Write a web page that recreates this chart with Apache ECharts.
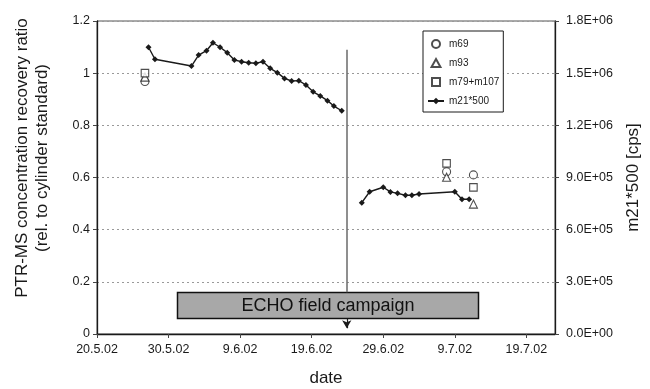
<!DOCTYPE html>
<html>
<head>
<meta charset="utf-8">
<script src="https://cdn.jsdelivr.net/npm/echarts@6/dist/echarts.min.js"></script>
<style>
  html, body { margin: 0; padding: 0; background: #fff; }
  #chart { width: 650px; height: 389px; }
</style>
</head>
<body>
<div id="chart"></div>
<script>
// x values are days counted from 20.5.02
const dateTickLabels = ['20.5.02', '30.5.02', '9.6.02', '19.6.02', '29.6.02', '9.7.02', '19.7.02'];

// m21*500 count rate [cps], before and after the campaign break
const m21DaysA = [7.2, 8.1, 13.2, 14.2, 15.3, 16.2, 17.2, 18.2, 19.2, 20.2, 21.2, 22.2,
                  23.2, 24.2, 25.2, 26.2, 27.2, 28.2, 29.2, 30.2, 31.2, 32.2, 33.1, 34.2];
const m21ValuesA = [1.649e6, 1.580e6, 1.541e6, 1.604e6, 1.629e6, 1.675e6, 1.649e6, 1.618e6,
                    1.576e6, 1.566e6, 1.560e6, 1.557e6, 1.566e6, 1.528e6, 1.503e6, 1.470e6,
                    1.455e6, 1.457e6, 1.432e6, 1.393e6, 1.369e6, 1.342e6, 1.311e6, 1.284e6];
const m21DaysB = [37.0, 38.1, 40.0, 41.0, 42.0, 43.1, 44.0, 45.0, 50.0, 51.0, 52.0];
const m21ValuesB = [7.55e5, 8.18e5, 8.44e5, 8.17e5, 8.09e5, 7.98e5, 7.98e5, 8.05e5,
                    8.18e5, 7.75e5, 7.75e5];

// recovery ratios from the cylinder standard checks
const calibrationDays = [6.7, 48.85, 52.6];
const m69Ratio = [0.968, 0.622, 0.610];
const m93Ratio = [0.985, 0.601, 0.498];
const m79m107Ratio = [1.0, 0.654, 0.562];

// start of the ECHO field campaign (day offset) and the divider extent
const campaignStartDay = 34.9;
const dividerRange = [1.09, 0.16];
const arrowRange = [0.058, 0.022];

const FONT = "'Liberation Sans', Arial, sans-serif";
const INK = '#1a1a1a';

// legend icons that keep their shape
const ICON_SQUARE = 'path://M0,0L10,0L10,10L0,10Z';
const ICON_TRIANGLE = 'path://M5,0L10,9L0,9Z';

function zip(xs, ys) { return xs.map((x, i) => [x, ys[i]]); }

// one line with a gap between the two measurement periods
const m21Data = zip(m21DaysA, m21ValuesA)
  .concat([[(m21DaysA[m21DaysA.length - 1] + m21DaysB[0]) / 2, '-']])
  .concat(zip(m21DaysB, m21ValuesB));

function sciLabel(v) {
  if (v === 0) return '0.0E+00';
  const e = Math.floor(Math.log10(v) + 1e-9);
  const m = v / Math.pow(10, e);
  return m.toFixed(1) + 'E+' + String(e).padStart(2, '0');
}

const hollow = { color: '#fff', borderColor: '#222', borderWidth: 1.1 };

const chart = echarts.init(document.getElementById('chart'), null, { renderer: 'canvas' });

chart.setOption({
  animation: false,
  backgroundColor: '#fff',
  textStyle: { fontFamily: FONT },
  grid: {
    left: 97, right: 95, top: 21, bottom: 55,
    containLabel: false, outerBoundsMode: 'none',
    show: true, borderColor: '#555', borderWidth: 1, backgroundColor: 'transparent'
  },
  legend: {
    orient: 'vertical',
    left: 423, top: 31,
    backgroundColor: '#fff',
    borderColor: INK, borderWidth: 1,
    padding: [8, 4, 6, 4],
    itemGap: 9, itemWidth: 16, itemHeight: 8,
    symbolKeepAspect: true,
    textStyle: { fontSize: 10, fontFamily: FONT, color: INK },
    data: [
      { name: 'm69', icon: 'circle' },
      { name: 'm93', icon: ICON_TRIANGLE },
      { name: 'm79+m107', icon: ICON_SQUARE },
      { name: 'm21*500' }
    ]
  },
  xAxis: {
    type: 'value',
    min: 0, max: 64, interval: 10,
    name: 'date', nameLocation: 'middle', nameGap: 36,
    nameTextStyle: { fontSize: 17, color: INK, fontFamily: FONT },
    axisLine: { lineStyle: { color: INK, width: 1.3 } },
    axisTick: { show: true, length: 4, lineStyle: { color: '#444' } },
    axisLabel: {
      fontSize: 12.5, color: INK, margin: 9, showMaxLabel: false,
      formatter: v => (v % 10 === 0 ? (dateTickLabels[v / 10] || '') : '')
    },
    splitLine: { show: false }
  },
  yAxis: [
    {
      type: 'value', position: 'left',
      min: 0, max: 1.2, interval: 0.2,
      axisLine: { show: true, lineStyle: { color: INK, width: 1.3 } },
      axisTick: { show: true, length: 4, lineStyle: { color: '#444' } },
      axisLabel: {
        fontSize: 12.5, color: INK, margin: 7,
        formatter: v => String(Math.round(v * 10) / 10)
      },
      splitLine: { show: true, lineStyle: { color: '#999', type: [2, 3], width: 1 } }
    },
    {
      type: 'value', position: 'right',
      min: 0, max: 1.8e6, interval: 3e5,
      name: 'm21*500 [cps]', nameLocation: 'middle', nameGap: 70,
      nameTextStyle: { fontSize: 17, color: INK, fontFamily: FONT },
      axisLine: { show: true, lineStyle: { color: INK, width: 1.3 } },
      axisTick: { show: true, length: 4, lineStyle: { color: '#444' } },
      axisLabel: { fontSize: 12.5, color: INK, margin: 11, formatter: sciLabel },
      splitLine: { show: false }
    }
  ],
  series: [
    {
      name: 'm69', type: 'scatter', yAxisIndex: 0,
      symbol: 'circle', symbolSize: 8, itemStyle: hollow,
      data: zip(calibrationDays, m69Ratio),
      markLine: {
        silent: true,
        label: { show: false },
        lineStyle: { color: '#6a6a6a', width: 1.5, type: 'solid' },
        data: [
          [
            { coord: [campaignStartDay, dividerRange[0]], symbol: 'none' },
            { coord: [campaignStartDay, dividerRange[1]], symbol: 'none' }
          ],
          [
            { coord: [campaignStartDay, arrowRange[0]], symbol: 'none', lineStyle: { color: INK, width: 1.2 } },
            { coord: [campaignStartDay, arrowRange[1]], symbol: 'arrow', symbolSize: [7, 8], lineStyle: { color: INK, width: 1.2 } }
          ]
        ]
      }
    },
    {
      name: 'm93', type: 'scatter', yAxisIndex: 0,
      symbol: 'triangle', symbolSize: 8, itemStyle: hollow,
      data: zip(calibrationDays, m93Ratio)
    },
    {
      name: 'm79+m107', type: 'scatter', yAxisIndex: 0,
      symbol: 'rect', symbolSize: 7.5, itemStyle: hollow,
      data: zip(calibrationDays, m79m107Ratio)
    },
    {
      name: 'm21*500', type: 'line', yAxisIndex: 1,
      symbol: 'diamond', symbolSize: 6, showSymbol: true,
      connectNulls: false,
      lineStyle: { color: INK, width: 1.4 },
      itemStyle: { color: INK },
      data: m21Data
    }
  ],
  graphic: [
    {
      type: 'text', z: 100,
      x: 32, y: 158, rotation: Math.PI / 2,
      style: {
        text: 'PTR-MS concentration recovery ratio\n(rel. to cylinder standard)',
        font: '17px ' + FONT, fill: INK,
        align: 'center', verticalAlign: 'middle', lineHeight: 20
      }
    },
    {
      type: 'group', z: 100,
      children: [
        {
          type: 'rect',
          shape: { x: 177.5, y: 292.5, width: 301, height: 26 },
          style: { fill: '#a8a8a8', stroke: '#111', lineWidth: 1.5 }
        },
        {
          type: 'text',
          x: 328, y: 306,
          style: {
            text: 'ECHO field campaign', font: '18px ' + FONT, fill: '#111',
            align: 'center', verticalAlign: 'middle'
          }
        }
      ]
    }
  ]
});
</script>
</body>
</html>
